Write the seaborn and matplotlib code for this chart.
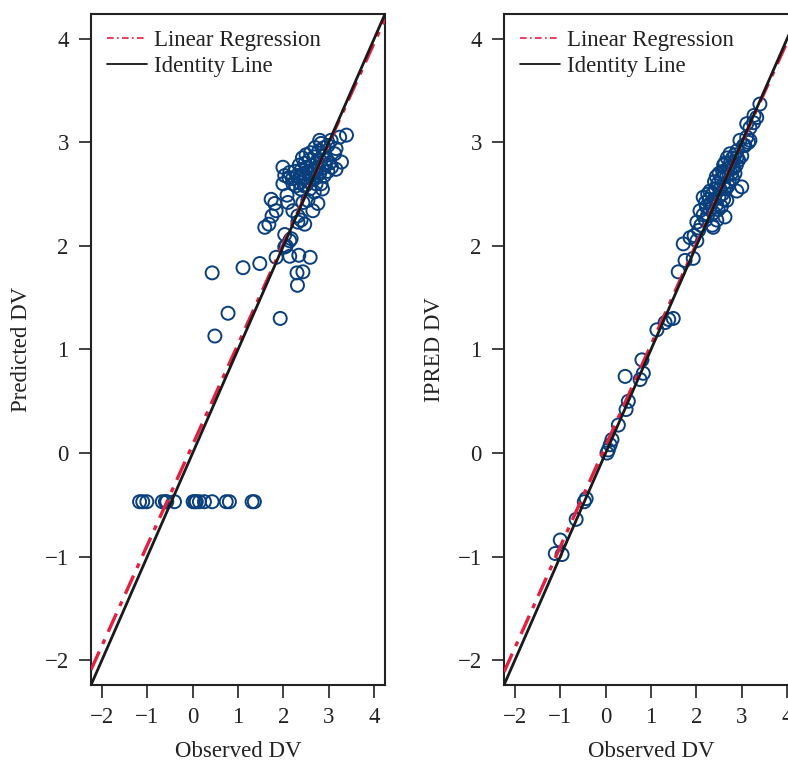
import matplotlib
matplotlib.use("Agg")
import matplotlib.pyplot as plt
from matplotlib.lines import Line2D
import seaborn as sns
import pandas as pd

# ---------------- data ----------------
ticks = [-2, -1, 0, 1, 2, 3, 4]
lims = (-2.24, 4.24)

obs_left = [-1.17, -1.10, -1.01, -0.67, -0.60, -0.57, -0.40, 0.01, 0.05, 0.08, 0.15,
            0.26, 0.43, 0.74, 0.81, 1.31, 1.36,
            0.43, 1.11, 1.48, 1.84, 2.14, 2.34, 2.59, 2.30, 2.43, 2.31, 0.78, 1.93,
            0.49, 2.03, 2.14, 2.03, 2.17, 2.06,
            1.59, 1.68, 1.75, 1.84, 1.73, 1.81, 2.08, 2.10, 2.21, 2.32, 2.39, 2.47,
            2.32, 2.65, 2.76, 2.43, 2.54, 1.99, 2.21, 2.36, 2.50, 2.72, 2.83,
            1.99, 2.03, 2.14,
            3.39, 3.24, 3.05, 2.98, 2.83, 2.80, 3.16, 3.13, 3.28, 3.16,
            2.25, 2.30, 2.35, 2.40, 2.42, 2.45, 2.48, 2.50, 2.52, 2.55, 2.57, 2.60,
            2.62, 2.64, 2.66, 2.68, 2.70, 2.72, 2.74, 2.76, 2.78, 2.80, 2.82, 2.85,
            2.88, 2.90, 2.92, 2.95, 2.98, 3.02, 3.06, 2.38, 2.46, 2.58, 2.68, 2.86,
            2.44, 2.55, 2.28, 2.70, 2.90, 2.60, 2.50, 2.35, 2.20, 2.12]
pred = [-0.47, -0.47, -0.47, -0.47, -0.47, -0.47, -0.47, -0.47, -0.47, -0.47, -0.47,
        -0.47, -0.47, -0.47, -0.47, -0.47, -0.47,
        1.74, 1.79, 1.83, 1.89, 1.90, 1.91, 1.89, 1.74, 1.75, 1.62, 1.35, 1.30,
        1.13, 1.99, 2.05, 2.11, 2.07, 2.00,
        2.18, 2.21, 2.29, 2.34, 2.45, 2.41, 2.49, 2.42, 2.34, 2.29, 2.25, 2.21,
        2.23, 2.34, 2.41, 2.42, 2.44, 2.60, 2.60, 2.61, 2.59, 2.60, 2.60,
        2.76, 2.68, 2.71,
        3.07, 3.05, 3.02, 2.97, 2.99, 3.02, 2.94, 2.89, 2.81, 2.74,
        2.72, 2.68, 2.78, 2.74, 2.85, 2.70, 2.80, 2.66, 2.76, 2.72, 2.83, 2.70,
        2.78, 2.65, 2.74, 2.86, 2.72, 2.80, 2.68, 2.76, 2.92, 2.70, 2.82, 2.75,
        2.88, 2.68, 2.78, 2.84, 2.72, 2.80, 2.76, 2.55, 2.58, 2.55, 2.52, 2.55,
        2.65, 2.62, 2.58, 2.95, 2.95, 2.90, 2.88, 2.66, 2.65, 2.66]

obs_right = [-1.11, -0.96, -1.00, -0.65, -0.47, -0.43, 0.03, 0.06, 0.10, 0.14, 0.28,
             0.45, 0.50, 0.43, 0.76, 0.83, 0.80, 1.13, 1.31, 1.39, 1.49,
             1.60, 1.75, 1.93, 1.71, 1.86, 2.01, 2.01, 2.37, 2.08, 2.63, 2.15, 2.67,
             2.30, 2.89, 3.00,
             2.10, 2.15, 2.20, 2.22, 2.25, 2.28, 2.30, 2.33, 2.35, 2.38, 2.40, 2.42,
             2.45, 2.47, 2.50, 2.52, 2.55, 2.57, 2.60, 2.62, 2.65, 2.67, 2.70, 2.72,
             2.75, 2.77, 2.80, 2.82, 2.85, 2.88, 2.90, 2.93, 2.96, 2.74, 2.89, 3.00,
             3.07, 3.18, 3.11, 3.04, 3.15, 3.11, 3.18, 3.26, 3.33, 3.27, 3.40,
             2.60, 2.68, 2.50, 2.45, 2.55, 2.35, 2.20, 2.60, 2.80, 2.40, 2.58, 2.48,
             2.70, 2.05, 1.95, 2.25, 2.63, 2.85, 2.81, 2.44]
ipred = [-0.97, -0.98, -0.84, -0.64, -0.47, -0.44, 0.00, 0.03, 0.08, 0.13, 0.27,
         0.42, 0.50, 0.74, 0.71, 0.77, 0.90, 1.19, 1.26, 1.29, 1.30,
         1.75, 1.86, 1.88, 2.02, 2.08, 2.05, 2.23, 2.18, 2.34, 2.28, 2.47, 2.44,
         2.53, 2.53, 2.57,
         2.20, 2.30, 2.25, 2.38, 2.30, 2.45, 2.35, 2.42, 2.50, 2.32, 2.45, 2.55,
         2.40, 2.60, 2.48, 2.55, 2.65, 2.50, 2.60, 2.70, 2.55, 2.68, 2.75, 2.62,
         2.80, 2.70, 2.85, 2.75, 2.88, 2.78, 2.92, 2.83, 3.02, 2.89, 2.85, 2.87,
         2.97, 3.02, 3.05, 2.97, 3.00, 3.18, 3.14, 3.19, 3.24, 3.26, 3.37,
         2.78, 2.85, 2.70, 2.25, 2.38, 2.20, 2.42, 2.45, 2.65, 2.62, 2.72, 2.35,
         2.58, 2.15, 2.10, 2.50, 2.80, 2.70, 2.76, 2.67]

# linear regression lines (intercept, slope)
reg_left = (0.08, 0.97)
reg_right = (0.07, 0.975)

# ---------------- styling ----------------
sns.set_theme(style="ticks")
plt.rcParams["font.family"] = ["Liberation Serif", "DejaVu Serif"]
FS = 16.5
BLUE = "#0A3F7E"
RED = "#E3203F"
TXT = "#222222"

fig = plt.figure(figsize=(7.88, 7.63), dpi=100)
ax1 = fig.add_axes([0.1155, 0.1022, 0.3731, 0.8795])
ax2 = fig.add_axes([0.6396, 0.1022, 0.3731, 0.8795])

panels = [
    (ax1, obs_left, pred, "Predicted DV", reg_left),
    (ax2, obs_right, ipred, "IPRED DV", reg_right),
]

for ax, xs, ys, ylab, (b0, b1) in panels:
    df = pd.DataFrame({"obs": xs, "val": ys})
    sns.scatterplot(data=df, x="obs", y="val", ax=ax, marker="o", s=88,
                    facecolors="none", edgecolor=BLUE, linewidth=1.4, zorder=3)
    ax.axline((0, b0), slope=b1, color=RED, lw=2.4, ls=(0, (6, 2.5, 1.5, 2.5)), zorder=4)
    ax.axline((0, 0), slope=1, color="#1a1a1a", lw=2.0, zorder=5)
    ax.set_xlim(*lims)
    ax.set_ylim(*lims)
    ax.set_xticks(ticks)
    ax.set_yticks(ticks)
    ax.set_xticklabels([f"{t}".replace("-", "\u2212") for t in ticks], fontsize=FS, color=TXT)
    ax.set_yticklabels([f"{t}".replace("-", "\u2212") for t in ticks], fontsize=FS, color=TXT)
    ax.tick_params(direction="out", length=9, width=1.3, pad=7, colors="#333333",
                   labelcolor=TXT)
    ax.set_xlabel("Observed DV", fontsize=FS, color=TXT, labelpad=9)
    ax.set_ylabel(ylab, fontsize=FS, color=TXT, labelpad=9)
    for sp in ax.spines.values():
        sp.set_visible(True)
        sp.set_linewidth(1.5)
        sp.set_color("#222222")
    handles = [Line2D([], [], color=RED, lw=1.2, ls=(0, (4, 2, 1, 2))),
               Line2D([], [], color="black", lw=1.2)]
    ax.legend(handles, ["Linear Regression", "Identity Line"], loc="upper left",
              frameon=False, fontsize=FS, handlelength=1.75, handletextpad=0.3,
              labelspacing=0.2, borderaxespad=0.3, labelcolor=TXT)

fig.savefig("out.png", dpi=100)
